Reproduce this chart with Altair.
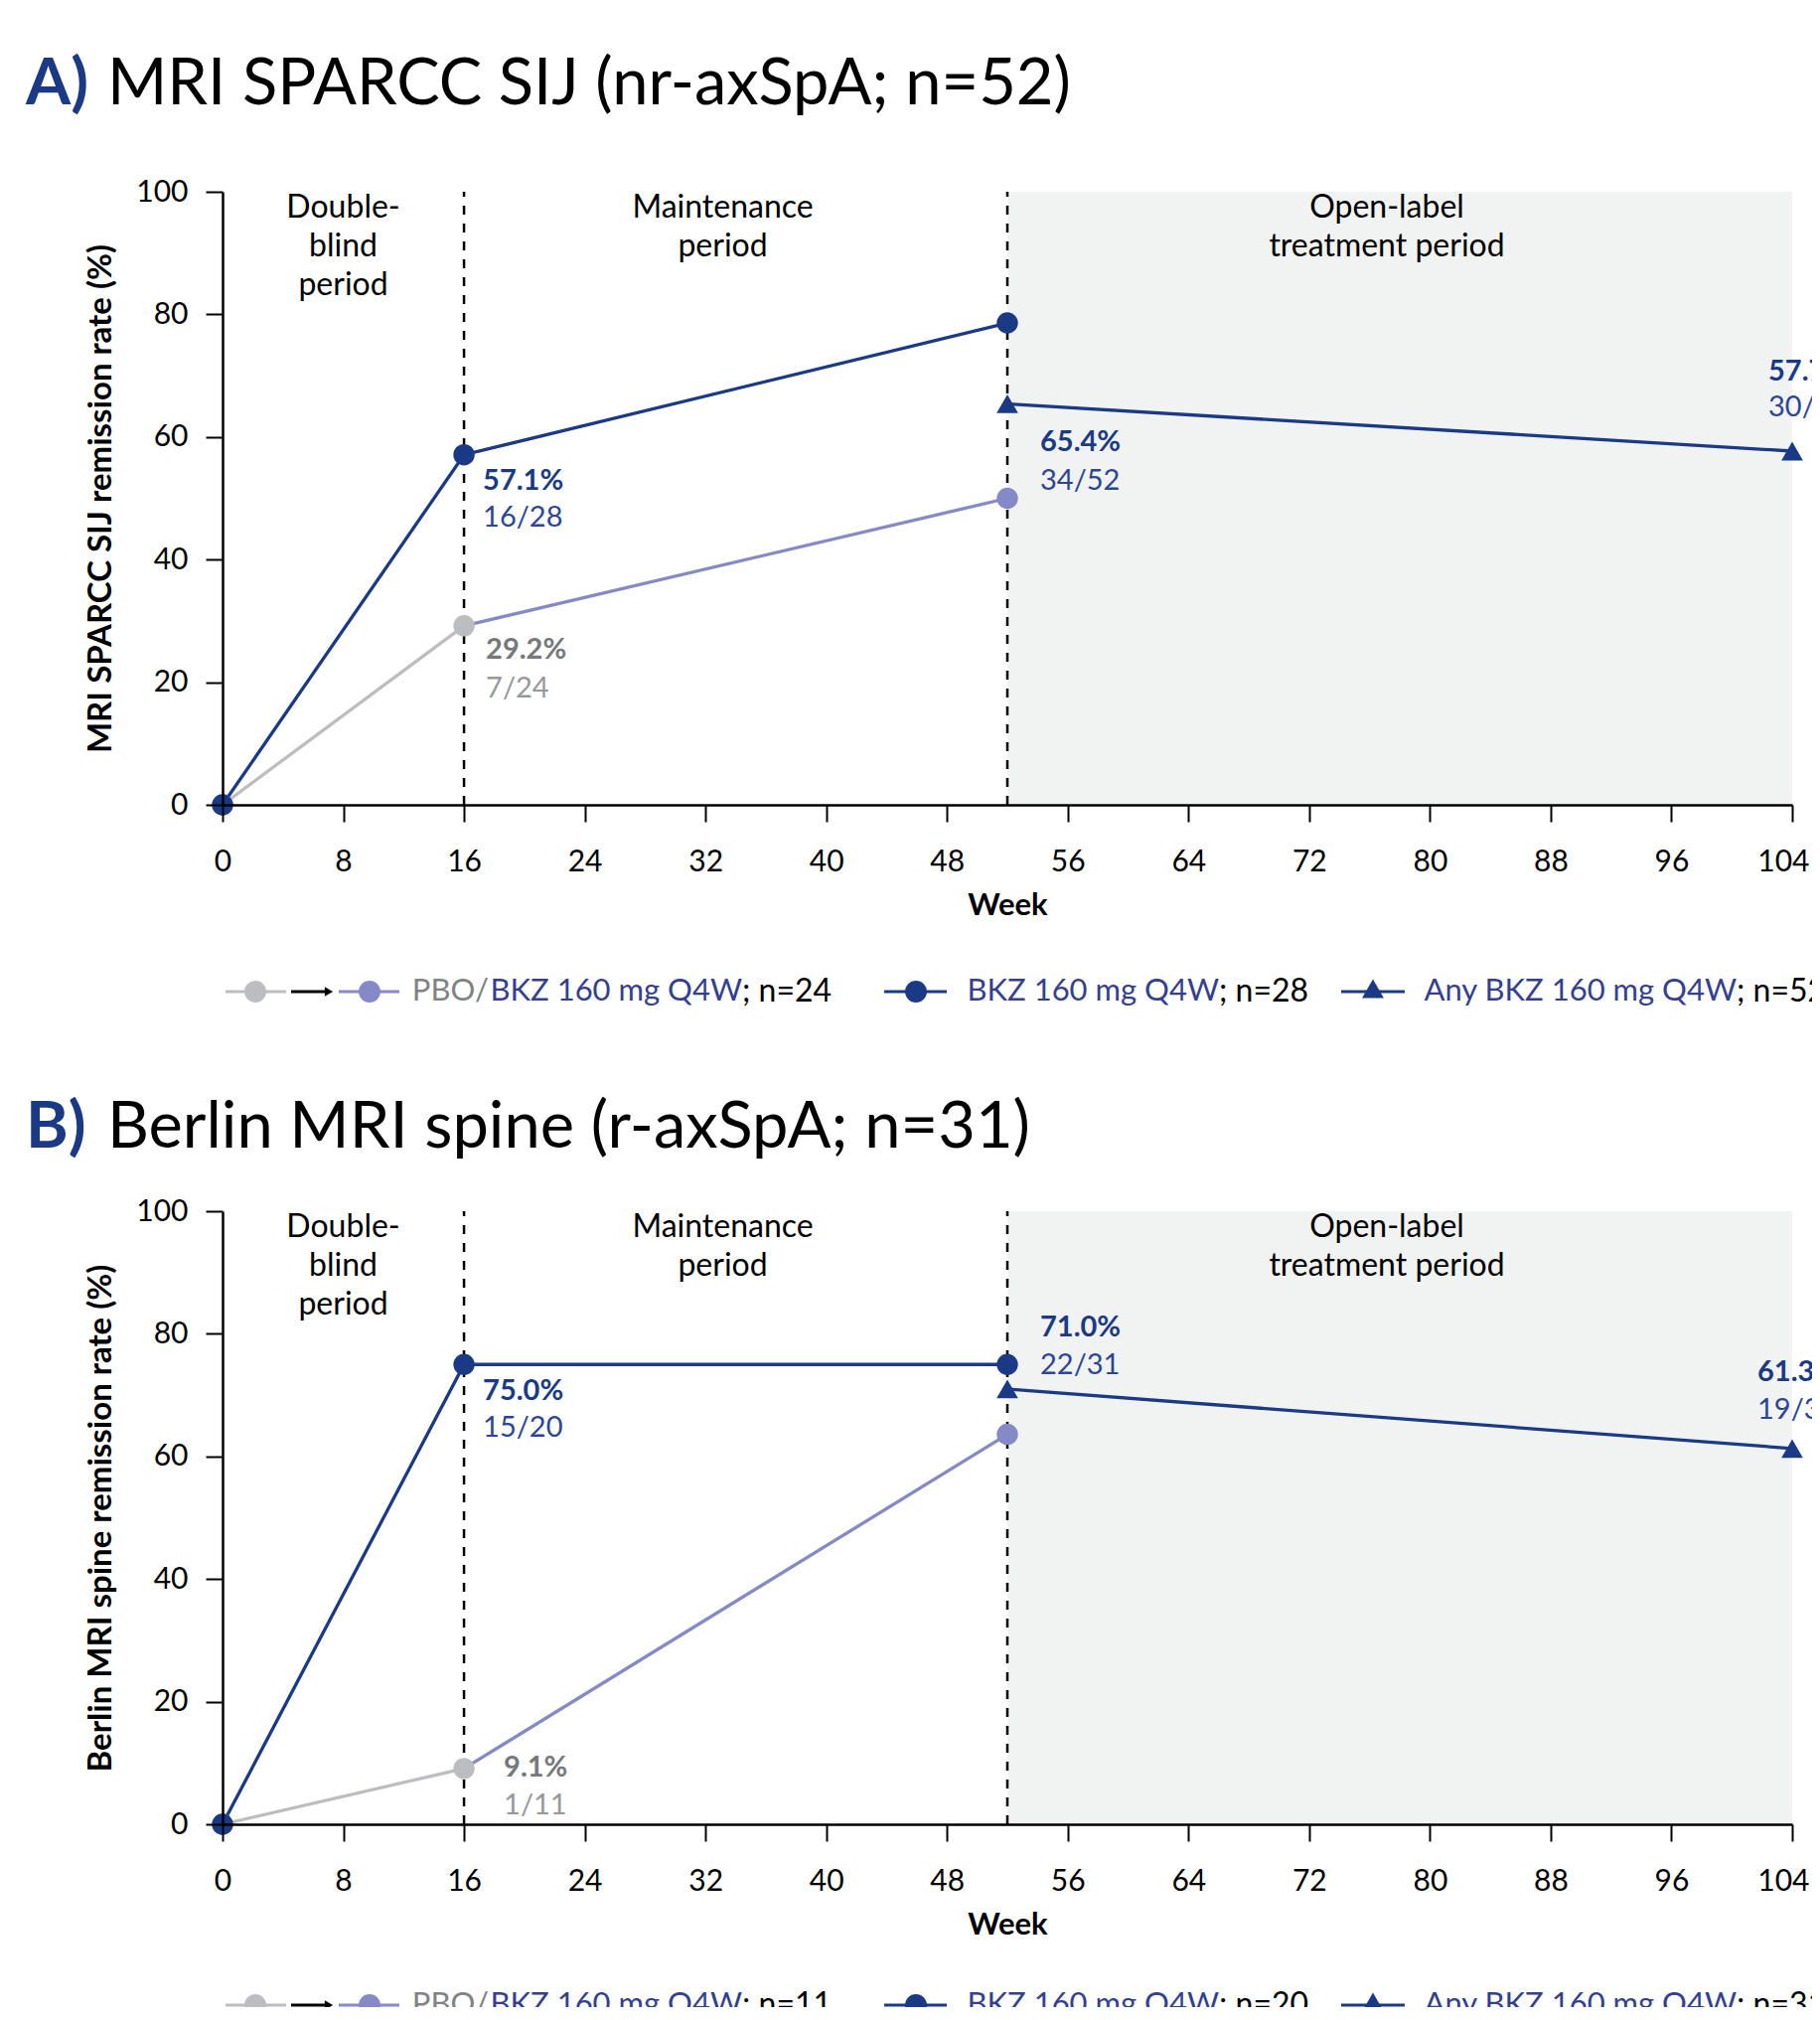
import altair as alt
import pandas as pd

FONT = "Lato"
DARK = "#1b3a86"
LABEL_BLUE = "#2b4696"
PURPLE = "#8589c7"
GRAY = "#bcbdc0"
GRAY_TXT = "#76787b"
GRAY_TXT2 = "#96989b"
LEG_BLUE = "#343f91"
SHADE = "#f1f3f2"

# ---------------- data ----------------
weeks_pbo = [0, 16, 52]
weeks_bkz = [0, 16, 52]
weeks_any = [52, 104]
period_bounds = [0, 16, 52, 104]
period_names = ["Double-\nblind\nperiod", "Maintenance\nperiod", "Open-label\ntreatment period"]
x_ticks = [0, 8, 16, 24, 32, 40, 48, 56, 64, 72, 80, 88, 96, 104]
y_ticks = [0, 20, 40, 60, 80, 100]
x_title = "Week"
legend_pbo = ["PBO/", "BKZ 160 mg Q4W"]
legend_bkz = "BKZ 160 mg Q4W"
legend_any = "Any BKZ 160 mg Q4W"

A_letter = "A)"
A_title = "MRI SPARCC SIJ (nr-axSpA; n=52)"
A_ytitle = "MRI SPARCC SIJ remission rate (%)"
A_pbo = [0, 29.2, 50.0]
A_bkz = [0, 57.1, 78.6]
A_any = [65.4, 57.7]
A_pct = ["57.1%", "29.2%", "65.4%", "57.7%"]
A_frac = ["16/28", "7/24", "34/52", "30/52"]
A_n = ["; n=24", "; n=28", "; n=52"]

B_letter = "B)"
B_title = "Berlin MRI spine (r-axSpA; n=31)"
B_ytitle = "Berlin MRI spine remission rate (%)"
B_pbo = [0, 9.1, 63.6]
B_bkz = [0, 75.0, 75.0]
B_any = [71.0, 61.3]
B_pct = ["75.0%", "9.1%", "71.0%", "61.3%"]
B_frac = ["15/20", "1/11", "22/31", "19/31"]
B_n = ["; n=11", "; n=20", "; n=31"]

# each value label belongs to (series, index)
label_anchor = [("bkz", 1), ("pbo", 1), ("any", 0), ("any", 1)]

# ---------------- styling (pixel offsets) ----------------
A_place = [(19, 26, 63), (22, 24, 63), (33, 39, 78), (-24, -80, -44)]
B_place = [(19, 27, 64), (40, -1, 37), (33, -62, -24), (-35, -77, -39)]

PW, PH = 1580, 617          # plotting range
GW = 1600                   # group width (clips overflowing text like the source)
one = pd.DataFrame({"a": [0]})
LAST = x_ticks[-1]


def ptext(x, y, text, color, size, weight="normal", align="left", clip=False):
    return alt.Chart(pd.DataFrame({"t": [text]})).mark_text(
        font=FONT, fontSize=size, fontWeight=weight, color=color,
        align=align, baseline="middle", clip=clip
    ).encode(x=alt.value(x), y=alt.value(y), text="t:N")


def prule(x1, x2, y, color, w=3):
    return alt.Chart(one).mark_rule(color=color, strokeWidth=w, clip=True).encode(
        x=alt.value(x1), x2=alt.value(x2), y=alt.value(y))


def ppoint(x, y, color, shape, size):
    return alt.Chart(one).mark_point(shape=shape, filled=True, color=color,
                                     size=size, opacity=1, clip=True).encode(
        x=alt.value(x), y=alt.value(y))


def panel(letter, title, ytitle, pbo, bkz, anyv, pct, frac, ns, place, title_y, leg_y, GH):
    xs = alt.Scale(domain=[period_bounds[0], period_bounds[-1]], nice=False,
                   zero=False, range=[0, PW])
    ys = alt.Scale(domain=[y_ticks[0], y_ticks[-1]], nice=False, zero=False,
                   range=[PH, 0])
    x_axis = alt.Axis(
        values=x_ticks, title=x_title, zindex=1, offset=PH - GH,
        labelAlign={"condition": {"test": f"datum.value == {LAST}", "value": "right"},
                    "value": "center"},
        labelOffset={"condition": {"test": f"datum.value == {LAST}", "value": 17},
                     "value": 0})
    y_axis = alt.Axis(values=y_ticks, title=ytitle, zindex=1)

    def X(f):
        return alt.X(f, type="quantitative", scale=xs, axis=x_axis)

    def Y(f):
        return alt.Y(f, type="quantitative", scale=ys, axis=y_axis)

    layers = []
    rect_df = pd.DataFrame({"x1": [period_bounds[2]], "x2": [period_bounds[3]],
                            "lo": [y_ticks[0]], "hi": [y_ticks[-1]]})
    layers.append(alt.Chart(rect_df).mark_rect(color=SHADE).encode(
        x=X("x1"), x2="x2:Q", y=Y("lo"), y2="hi:Q"))
    rule_df = pd.DataFrame({"week": period_bounds[1:3], "lo": y_ticks[0], "hi": y_ticks[-1]})
    layers.append(alt.Chart(rule_df).mark_rule(color="black", strokeWidth=2.5,
                                               strokeDash=[9, 9]).encode(
        x=X("week"), y=Y("lo"), y2="hi:Q"))
    mids = [(period_bounds[i] + period_bounds[i + 1]) / 2 for i in range(3)]
    for i in range(3):
        pdf = pd.DataFrame({"mid": [mids[i]], "lab": [period_names[i]]})
        layers.append(alt.Chart(pdf).mark_text(
            font=FONT, fontSize=32, lineBreak="\n", lineHeight=39, align="center",
            baseline="top", color="black", dx=0 if i == 0 else -13).encode(
            x=X("mid"), y=alt.value(1), text="lab:N"))
    rows = []
    for w, v in zip(weeks_pbo[:2], pbo[:2]):
        rows.append({"week": w, "value": v, "seg": "pbo_db"})
    for w, v in zip(weeks_pbo[1:], pbo[1:]):
        rows.append({"week": w, "value": v, "seg": "pbo_m"})
    for w, v in zip(weeks_bkz, bkz):
        rows.append({"week": w, "value": v, "seg": "bkz"})
    for w, v in zip(weeks_any, anyv):
        rows.append({"week": w, "value": v, "seg": "any"})
    layers.append(alt.Chart(pd.DataFrame(rows)).mark_line(strokeWidth=3.3).encode(
        x=X("week"), y=Y("value"),
        color=alt.Color("seg:N", legend=None,
                        scale=alt.Scale(domain=["pbo_db", "pbo_m", "bkz", "any"],
                                        range=[GRAY, PURPLE, DARK, DARK])),
        detail="seg:N"))
    prow = []
    for i, (w, v) in enumerate(zip(weeks_pbo, pbo)):
        prow.append({"week": w, "value": v, "c": "gray" if i < 2 else "purple"})
    for w, v in zip(weeks_bkz, bkz):
        prow.append({"week": w, "value": v, "c": "dark"})
    layers.append(alt.Chart(pd.DataFrame(prow)).mark_point(
        shape="circle", filled=True, size=460, opacity=1).encode(
        x=X("week"), y=Y("value"),
        color=alt.Color("c:N", legend=None,
                        scale=alt.Scale(domain=["gray", "purple", "dark"],
                                        range=[GRAY, PURPLE, DARK]))))
    tdf = pd.DataFrame({"week": weeks_any, "value": anyv})
    layers.append(alt.Chart(tdf).mark_point(
        shape="triangle-up", filled=True, size=470, opacity=1, color=DARK).encode(
        x=X("week"), y=Y("value")))
    series = {"pbo": (weeks_pbo, pbo), "bkz": (weeks_bkz, bkz), "any": (weeks_any, anyv)}
    for k, (sname, idx) in enumerate(label_anchor):
        wk, vals = series[sname]
        dx, dy1, dy2 = place[k]
        c1, c2 = (GRAY_TXT, GRAY_TXT2) if sname == "pbo" else (DARK, LABEL_BLUE)
        ldf = pd.DataFrame({"week": [wk[idx]], "value": [vals[idx]],
                            "p": [pct[k]], "f": [frac[k]]})
        base = alt.Chart(ldf)
        layers.append(base.mark_text(font=FONT, fontSize=29, fontWeight="bold",
                                     color=c1, align="left", baseline="middle",
                                     dx=dx, dy=dy1, clip=True).encode(
            x=X("week"), y=Y("value"), text="p:N"))
        layers.append(base.mark_text(font=FONT, fontSize=29, color=c2,
                                     align="left", baseline="middle",
                                     dx=dx, dy=dy2, clip=True).encode(
            x=X("week"), y=Y("value"), text="f:N"))
    layers.append(ptext(-198, title_y, letter, DARK, 65, "bold"))
    layers.append(ptext(-116, title_y, title, "black", 65))
    layers += [
        prule(3, 64, leg_y, GRAY), ppoint(33, leg_y, GRAY, "circle", 480),
        prule(69, 103, leg_y, "black"), ppoint(107, leg_y, "black", "triangle-right", 90),
        prule(117, 178, leg_y, PURPLE), ppoint(148, leg_y, PURPLE, "circle", 480),
        ptext(268, leg_y, legend_pbo[0], "#808285", 31, align="right", clip=True),
        ptext(523, leg_y, legend_pbo[1], LEG_BLUE, 31, align="right", clip=True),
        ptext(523, leg_y, ns[0], "black", 32, clip=True),
        prule(666, 729, leg_y, DARK), ppoint(698, leg_y, DARK, "circle", 480),
        ptext(1003, leg_y, legend_bkz, LEG_BLUE, 31, align="right", clip=True),
        ptext(1003, leg_y, ns[1], "black", 32, clip=True),
        prule(1126, 1190, leg_y, DARK), ppoint(1158, leg_y - 3, DARK, "triangle-up", 480),
        ptext(1524, leg_y, legend_any, LEG_BLUE, 31, align="right", clip=True),
        ptext(1524, leg_y, ns[2], "black", 32, clip=True),
    ]
    return alt.layer(*layers).properties(width=GW, height=GH)


pA = panel(A_letter, A_title, A_ytitle, A_pbo, A_bkz, A_any, A_pct, A_frac, A_n,
           A_place, -108, 805, 830)
pB = panel(B_letter, B_title, B_ytitle, B_pbo, B_bkz, B_any, B_pct, B_frac, B_n,
           B_place, -84, 799, 801)

chart = alt.vconcat(pA, pB, spacing=80).properties(
    padding={"left": 18, "top": 45, "right": 0, "bottom": 0}
).configure_view(stroke=None).configure_axis(
    grid=False, domainColor="black", domainWidth=2.5, tickColor="black",
    tickWidth=2, tickSize=17, labelFont=FONT, labelFontSize=30, labelColor="black",
    titleFont=FONT, titleFontWeight="bold", titleColor="black",
).configure_axisX(
    labelPadding=25, titleY=101, titleBaseline="middle", labelFlush=False,
    titleFontSize=31
).configure_axisY(
    labelPadding=18, titleX=-123, titleBaseline="middle", titleFontSize=33
)

chart.save("out.html", embed_options={"renderer": "svg", "actions": False})
